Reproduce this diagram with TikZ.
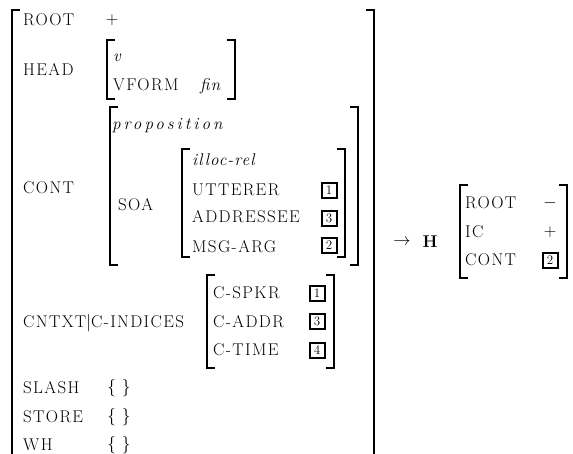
\documentclass[tikz,border=0pt]{standalone}
\usepackage{fontspec}
\setmainfont{Latin Modern Roman}[LetterSpace=8]
\newfontfamily\itspaced{Latin Modern Roman}[LetterSpace=18]
\newfontfamily\itlight{Latin Modern Roman}[LetterSpace=6]
\begin{document}
\begin{tikzpicture}[x=1pt,y=-1pt,
  lbl/.style={anchor=base west,inner sep=0pt,font=\fontsize{17}{19}\selectfont},
  ital/.style={lbl,font=\fontsize{17}{19}\selectfont\itshape},
  itsp/.style={lbl,font=\fontsize{17}{19}\selectfont\itspaced\itshape},
  itlt/.style={lbl,font=\fontsize{17}{19}\selectfont\itlight\itshape},
  sym/.style={anchor=center,inner sep=0pt,font=\fontsize{17}{19}\selectfont},
  tagbox/.style={draw,line width=2pt,minimum width=15pt,minimum height=15pt,inner sep=0pt,font=\fontsize{13}{15}\selectfont},
  brk/.style={line width=1.8pt},
  obrk/.style={line width=2.2pt}]
\useasboundingbox (0,0) rectangle (573,453);
% outer brackets
\coordinate (otl) at (12,10); \coordinate (obl) at (12,460);
\coordinate (otr) at (374,10); \coordinate (obr) at (374,460);
\draw[obrk] ([xshift=8pt]otl) -- (otl) -- (obl);
\draw[obrk] ([xshift=-8pt]otr) -- (otr) -- (obr);
% ROOT
\node[lbl] (root) at (23,25) {ROOT};
\node[sym] (rootv) at (112,20) {$+$};
% HEAD
\node[lbl] (head) at (23,75) {HEAD};
\draw[brk] (115,40) -- (107,40) -- (107,99) -- (115,99);
\draw[brk] (227,40) -- (235,40) -- (235,99) -- (227,99);
\node[ital] (v) at (113,61) {v};
\node[lbl] (vform) at (113,90) {VFORM};
\node[ital] (fin) at (200,90) {fin};
% CONT
\node[lbl] (cont) at (23,193) {CONT};
\draw[brk] (118,107) -- (110,107) -- (110,265) -- (118,265);
\draw[brk] (350,107) -- (358,107) -- (358,265) -- (350,265);
\node[itsp] (prop) at (112,129) {proposition};
\node[lbl] (soa) at (118,210) {SOA};
\draw[brk] (190,149) -- (182,149) -- (182,257) -- (190,257);
\draw[brk] (337,149) -- (345,149) -- (345,257) -- (337,257);
\node[itlt] (illoc) at (192,165) {illoc-rel};
\node[lbl] (utt) at (192,195) {UTTERER};
\node[lbl] (addr) at (192,222) {ADDRESSEE};
\node[lbl] (msg) at (192,252) {MSG-ARG};
\node[tagbox] (t1a) at (329,190) {1};
\node[tagbox] (t3a) at (329,218) {3};
\node[tagbox] (t2a) at (329,245) {2};
% CNTXT
\node[lbl] (cntxt) at (23,327) {CNTXT$|$C-INDICES};
\draw[brk] (215,275) -- (207,275) -- (207,368) -- (215,368);
\draw[brk] (326,275) -- (334,275) -- (334,368) -- (326,368);
\node[lbl] (spkr) at (213,298) {C-SPKR};
\node[lbl] (caddr) at (213,327) {C-ADDR};
\node[lbl] (ctime) at (213,355) {C-TIME};
\node[tagbox] (t1b) at (317,293) {1};
\node[tagbox] (t3b) at (317,321) {3};
\node[tagbox] (t4b) at (317,350) {4};
% sets
\node[lbl] (slash) at (23,393) {SLASH};
\node[sym] (slashv) at (119,388) {$\{\hspace{6pt}\}$};
\node[lbl] (store) at (23,422) {STORE};
\node[sym] (storev) at (119,417) {$\{\hspace{6pt}\}$};
\node[lbl] (wh) at (23,450) {WH};
\node[sym] (whv) at (119,445) {$\{\hspace{6pt}\}$};
% right side
\node[sym] (arrow) at (402,242) {$\rightarrow$};
\node[sym] (h) at (430,242) {$\mathbf{H}$};
\draw[brk] (468,185) -- (460,185) -- (460,278) -- (468,278);
\draw[brk] (559,185) -- (567,185) -- (567,278) -- (559,278);
\node[lbl] (rroot) at (465,208) {ROOT};
\node[sym] (rrootv) at (550,203) {$-$};
\node[lbl] (ric) at (465,237) {IC};
\node[sym] (ricv) at (550,232) {$+$};
\node[lbl] (rcont) at (465,265) {CONT};
\node[tagbox] (t2r) at (550,260) {2};
\end{tikzpicture}
\end{document}
